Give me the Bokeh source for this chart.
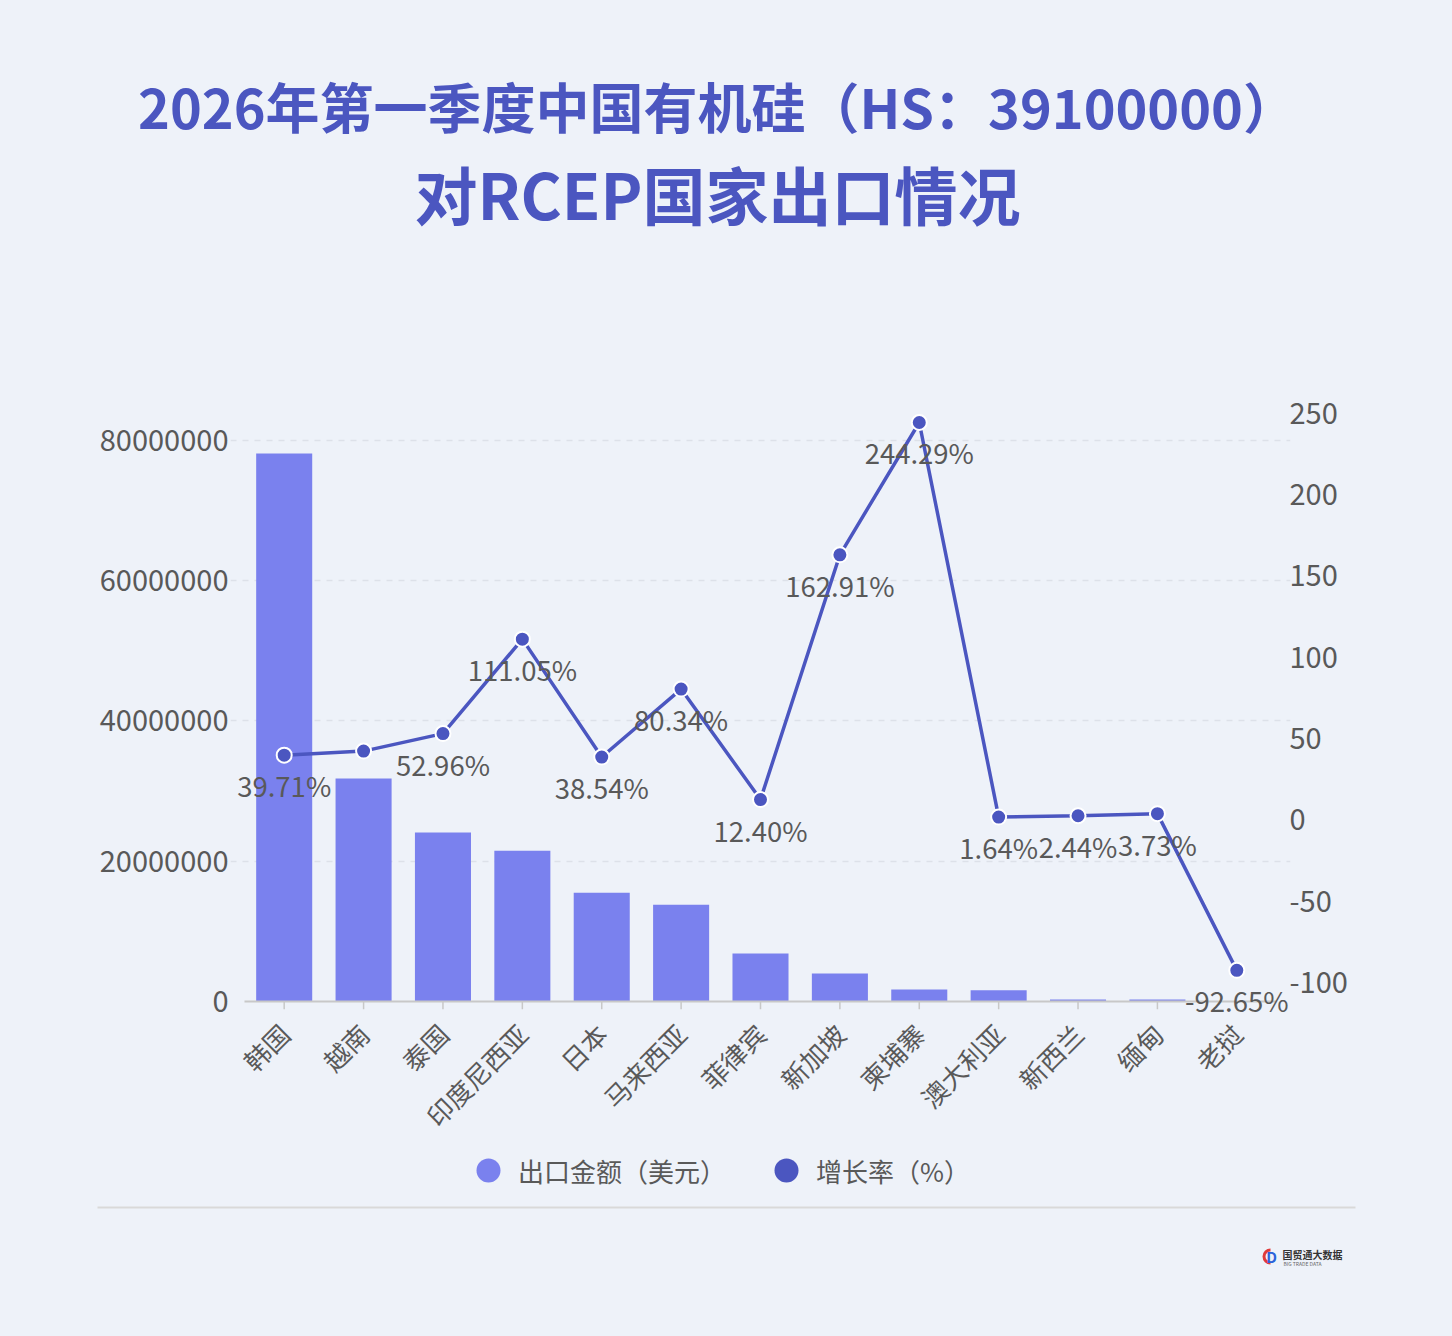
import math
from bokeh.plotting import figure
from bokeh.layouts import column
from bokeh.models import (ColumnDataSource, Range1d, FactorRange, LinearAxis, FixedTicker,
                          NumeralTickFormatter, Legend, LegendItem)
from bokeh.transform import dodge
from bokeh.core.properties import value
from bokeh.embed import file_html
from bokeh.resources import INLINE

# ---------------- data ----------------
categories = ["韩国", "越南", "泰国", "印度尼西亚", "日本", "马来西亚", "菲律宾",
              "新加坡", "柬埔寨", "澳大利亚", "新西兰", "缅甸", "老挝"]
export_usd = [78150000, 31800000, 24100000, 21500000, 15500000, 13800000, 6850000,
              4000000, 1700000, 1600000, 300000, 300000, 20000]
growth_pct = [39.71, 42.2, 52.96, 111.05, 38.54, 80.34, 12.40,
              162.91, 244.29, 1.64, 2.44, 3.73, -92.65]
growth_labels = ["39.71%", "", "52.96%", "111.05%", "38.54%", "80.34%", "12.40%",
                 "162.91%", "244.29%", "1.64%", "2.44%", "3.73%", "-92.65%"]
left_ticks = [0, 20000000, 40000000, 60000000, 80000000]
right_ticks = [-100, -50, 0, 50, 100, 150, 200, 250]
series_names = ["出口金额（美元）", "增长率（%）"]
title_line1 = "2026年第一季度中国有机硅（HS：39100000）"
title_line2 = "对RCEP国家出口情况"
logo_name = "国贸通大数据"
logo_sub = "BIG TRADE DATA"

# ---------------- style ----------------
BG = "#eef2f9"
BAR = "#7a81ee"
LINE = "#4b56c0"
TXT = "#595959"
FONT = "Noto Sans CJK SC"
W = 1452
TOP_H = 372          # page y where the chart block starts
MAIN_H = 777         # chart block height (frame 616 + borders 28 / 133)
BOT_Y = TOP_H + MAIN_H


def blank(height, y_top, y_bottom):
    f = figure(width=W, height=height, x_range=Range1d(0, W), y_range=Range1d(y_bottom, y_top),
               x_axis_location=None, y_axis_location=None, min_border=0,
               output_backend="svg", toolbar_location=None)
    f.frame_align = False
    f.grid.visible = False
    f.outline_line_color = None
    f.background_fill_color = BG
    f.border_fill_color = BG
    return f


# ---------------- title block ----------------
top = blank(TOP_H, 0, TOP_H)
top.text(x=[717], y=[105], text=[title_line1], text_align="center", text_baseline="middle",
         text_font=value(FONT), text_font_size="54px", text_font_style="bold", text_color=LINE)
top.text(x=[717], y=[192], text=[title_line2], text_align="center", text_baseline="middle",
         text_font=value(FONT), text_font_size="63px", text_font_style="bold", text_color=LINE)

# ---------------- main chart ----------------
src = ColumnDataSource(dict(cat=categories, usd=export_usd, rate=growth_pct, lab=growth_labels))
ends = ColumnDataSource(dict(a=[categories[0]], b=[categories[-1]]))

p = figure(width=W, height=MAIN_H, frame_width=1060, frame_height=616,
           x_range=FactorRange(*categories, range_padding=0.1764, range_padding_units="absolute"),
           y_range=Range1d(-2.139e6, 85.70e6),
           output_backend="svg", toolbar_location=None,
           min_border_left=230, min_border_right=162,
           min_border_top=28, min_border_bottom=133)
p.frame_align = False
p.background_fill_color = BG
p.border_fill_color = BG
p.outline_line_color = None
p.extra_y_ranges = {"rate": Range1d(-121.03, 257.81)}

p.xgrid.grid_line_color = None
p.ygrid.ticker = FixedTicker(ticks=left_ticks[1:])
p.ygrid.grid_line_color = "#dde1e9"
p.ygrid.grid_line_dash = "6 6"
p.ygrid.grid_line_width = 1.5

xa = p.xaxis[0]
xa.axis_line_color = None
xa.major_tick_line_color = None
xa.major_tick_out = 0
xa.major_tick_in = 0
xa.minor_tick_out = 0
xa.major_label_orientation = math.pi / 4
xa.major_label_text_font = FONT
xa.major_label_text_font_size = "26px"
xa.major_label_text_color = TXT
xa.major_label_standoff = 12

ya = p.yaxis[0]
ya.ticker = FixedTicker(ticks=left_ticks)
ya.formatter = NumeralTickFormatter(format="0")
ya.axis_line_color = None
ya.major_tick_line_color = None
ya.minor_tick_line_color = None
ya.major_label_text_font = FONT
ya.major_label_text_font_size = "29px"
ya.major_label_text_color = TXT
ya.major_label_standoff = -4

ra = LinearAxis(y_range_name="rate", ticker=FixedTicker(ticks=right_ticks),
                formatter=NumeralTickFormatter(format="0"))
ra.axis_line_color = None
ra.major_tick_line_color = None
ra.minor_tick_line_color = None
ra.major_label_text_font = FONT
ra.major_label_text_font_size = "29px"
ra.major_label_text_color = TXT
ra.major_label_standoff = -7
p.add_layout(ra, "right")

# bars
p.vbar(x="cat", top="usd", width=0.706, source=src, fill_color=BAR, line_color=None)

# category baseline and ticks
p.segment(x0=dodge("a", -0.5, range=p.x_range), x1=dodge("b", 0.5, range=p.x_range),
          y0=0, y1=0, source=ends, line_color="#c8c8c8", line_width=2)
p.segment(x0="cat", x1="cat", y0=0, y1=-1.1e6, source=src, line_color="#c8c8c8", line_width=1.5)

# growth line
p.line(x="cat", y="rate", source=src, y_range_name="rate", line_color=LINE, line_width=3.5)
p.scatter(x="cat", y="rate", source=src, y_range_name="rate", size=15,
          fill_color=LINE, line_color="white", line_width=2)
p.text(x="cat", y="rate", text="lab", source=src, y_range_name="rate", y_offset=30,
       text_align="center", text_baseline="middle", text_font=value(FONT),
       text_font_size="27.5px", text_color=TXT)

# ---------------- footer: legend, rule, logo ----------------
bot = blank(1336 - BOT_Y, BOT_Y, 1336)
r1 = bot.scatter(x=[-100], y=[-100], size=24, fill_color=BAR, line_color=None)
r2 = bot.scatter(x=[-100], y=[-100], size=24, fill_color=LINE, line_color=None)
legend = Legend(items=[LegendItem(label=series_names[0], renderers=[r1]),
                       LegendItem(label=series_names[1], renderers=[r2])],
                location=(458, 136), orientation="horizontal",
                glyph_width=60, glyph_height=60, label_standoff=0, spacing=30,
                padding=0, margin=0, border_line_color=None, background_fill_alpha=0,
                label_text_font=FONT, label_text_font_size="26px", label_text_color=TXT)
bot.add_layout(legend)

bot.segment(x0=[97], x1=[1355], y0=[1207], y1=[1207], line_color="#d9d9d9", line_width=2)

bot.annular_wedge(x=[1270], y=[1256], inner_radius=5, outer_radius=8,
                  start_angle=math.pi / 2, end_angle=3 * math.pi / 2,
                  fill_color="#e03b3b", line_color=None)
bot.text(x=[1271], y=[1256], text=["D"], text_align="center", text_baseline="middle",
         text_font=value(FONT), text_font_size="15px", text_font_style="bold",
         text_color="#2b63d9")
bot.text(x=[1282], y=[1254], text=[logo_name], text_align="left", text_baseline="middle",
         text_font=value(FONT), text_font_size="10px", text_font_style="bold",
         text_color="#333333")
bot.text(x=[1283], y=[1263], text=[logo_sub], text_align="left", text_baseline="middle",
         text_font=value(FONT), text_font_size="5px", text_color="#666666")

layout = column(top, p, bot, spacing=0)
html = file_html(layout, INLINE, title="2026年第一季度中国有机硅对RCEP国家出口情况")
html = html.replace("<head>", "<head><style>html,body{margin:0;padding:0;background:%s;}</style>" % BG, 1)
open("out.html", "w").write(html)
